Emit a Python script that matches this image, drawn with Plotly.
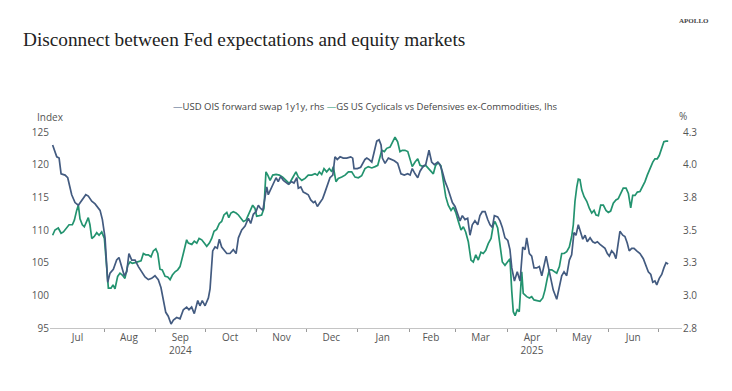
import pandas as pd
import plotly.graph_objects as go

START = pd.Timestamp("2024-07-01")

# USD OIS forward swap 1y1y (%, rhs) — x in days since 2024-07-01
ois_days = [
    0, 2.5, 3.9, 5.1, 7.5, 9.1, 11.5, 13.5, 15.5, 17.5,
    20, 21.5, 23.6, 25.6, 27.2, 28.6, 30, 31.6, 33.2, 34.6,
    36.6, 38.6, 40, 41.7, 43.2, 44.7, 46, 47.7, 49.7, 51.7,
    53.7, 55.7, 57.7, 59.7, 61.7, 63.7, 65.3, 66.7, 68.2, 69.7,
    71.4, 72.8, 74.8, 76.8, 78.8, 80.8, 82.2, 83.8, 85.4, 87.5,
    88.8, 90.2, 91.9, 93.9, 94.9,
    96.5, 97.9, 99.3, 100.5, 101.9, 103.3, 105, 106.9, 108.9, 110.6,
    112, 114, 116, 118, 119.4, 121, 122.6, 124, 125, 126.7,
    128, 129.1, 130, 131.5, 133, 134.7, 136, 137.5, 139.1, 140.7,
    142.1, 144.1, 145.5, 147.2, 148.1, 149.6, 151.1, 152.8, 154.1, 155.6,
    157.2, 158.2, 159.6, 161.2, 162.8, 164.2, 165.6, 167.2, 168.9, 170.2,
    171.6, 173.3, 175.2, 177.3, 179.7, 180.9, 181.7, 183.7, 185.7, 187.3,
    188.3,
    189.4, 190.7, 192.4, 193.9, 195.4, 196.8, 198, 198.8, 200.4, 202.4,
    204.4, 206, 208, 210, 212, 214.1, 215.5, 216.8, 218.5, 220.1,
    221.5, 223.5, 224.9, 226.9, 228.5, 230.1, 232.2, 233.5, 234.9, 236.6,
    238.2, 239.6, 241, 242.6, 244.2, 245.6, 247, 248.6, 250.2, 251.6,
    253, 254.6, 256.3, 257.6, 259, 260.7, 262.3, 263.7, 265.1, 266.3,
    268.3, 269.7, 271.1, 272.7, 274.4, 275.7, 276.8,
    278.4, 280.1, 281.8, 283.4, 284.8, 285.8, 287.4, 288.8, 290.2, 291.8,
    293.4, 294.9, 296.2, 297.5, 298.8, 300.3, 301.8, 303.9, 305.5, 306.9,
    308.3, 309.9, 311.5, 312.9, 314.3, 315.5, 316.9, 318.4, 319.6, 321,
    322.3, 324, 325.6, 327, 328.4, 330, 331.6, 333, 334.4, 335.6,
    337, 338.4, 339.6, 341, 342, 343.7, 345, 346.4, 347.6, 349.1,
    350.5, 352.1, 354.1, 356.1, 357.7, 359.1, 360.6, 361.8, 363.1, 364.2,
    365.7, 367.2, 368.5, 369.8, 371.1,
]
ois_pct = [
    4.15, 4.06, 4.05, 3.93, 3.92, 3.90, 3.77, 3.71, 3.69, 3.73,
    3.77, 3.76, 3.72, 3.70, 3.67, 3.65, 3.58, 3.44, 3.10, 3.17,
    3.20, 3.27, 3.29, 3.21, 3.15, 3.18, 3.32, 3.27, 3.27, 3.22,
    3.18, 3.14, 3.12, 3.13, 3.15, 3.12, 3.06, 2.96, 2.87, 2.84,
    2.78, 2.81, 2.83, 2.82, 2.89, 2.91, 2.89, 2.91, 2.86, 2.96,
    2.92, 2.96, 2.92, 2.98, 3.05,
    3.34, 3.37, 3.36, 3.43, 3.37, 3.35, 3.32, 3.32, 3.35, 3.32,
    3.44, 3.50, 3.53, 3.59, 3.55, 3.62, 3.64, 3.69, 3.67, 3.65,
    3.76, 3.83, 3.77, 3.81, 3.86, 3.90, 3.87, 3.91, 3.88, 3.86,
    3.85, 3.87, 3.86, 3.90, 3.82, 3.83, 3.79, 3.78, 3.77, 3.73,
    3.71, 3.72, 3.68, 3.71, 3.74, 3.79, 3.85, 3.90, 3.92, 4.06,
    4.04, 4.06, 4.05, 4.05, 4.06, 4.05, 3.97, 3.97, 3.98, 4.02,
    4.04,
    4.05, 4.04, 4.02, 4.10, 4.18, 4.19, 4.15, 4.05, 4.01, 4.05,
    4.04, 4.03, 4.01, 3.93, 3.92, 3.93, 3.92, 3.97, 3.93, 3.90,
    3.95, 3.99, 4.00, 4.11, 4.02, 4.00, 4.02, 4.00, 3.95, 3.87,
    3.82, 3.76, 3.71, 3.68, 3.62, 3.57, 3.61, 3.58, 3.59, 3.46,
    3.54, 3.57, 3.54, 3.61, 3.64, 3.64, 3.58, 3.54, 3.52, 3.61,
    3.60, 3.57, 3.52, 3.44, 3.42, 3.35, 3.21,
    3.11, 3.18, 3.11, 3.37, 3.35, 3.44, 3.32, 3.30, 3.21, 3.21,
    3.22, 3.15, 3.22, 3.30, 3.22, 3.13, 3.04, 2.97, 3.06, 3.15,
    3.18, 3.15, 3.27, 3.31, 3.48, 3.46, 3.54, 3.48, 3.43, 3.46,
    3.41, 3.44, 3.41, 3.40, 3.41, 3.39, 3.37, 3.36, 3.32, 3.30,
    3.34, 3.32, 3.28, 3.41, 3.49, 3.46, 3.45, 3.40, 3.34, 3.36,
    3.36, 3.34, 3.32, 3.28, 3.23, 3.18, 3.16, 3.10, 3.11, 3.08,
    3.13, 3.16, 3.21, 3.25, 3.24,
]

# GS US Cyclicals vs Defensives ex-Commodities (index, lhs)
gs_days = [
    0, 1.4, 3.4, 5.1, 6.5, 8.5, 9.9, 11.9, 13.1, 14.5,
    15.5, 16.5, 17.9, 19.1, 20.6, 21.5, 22.5, 23.6, 25.1, 26.6,
    28, 29.6, 31.2, 32.8, 33.6, 35.2, 36.4, 37.6, 39.2, 40.6,
    42, 43.6, 45.3, 46.7, 48, 49.7, 51.3, 53.3, 54.7, 56.1,
    57.7, 59.3, 60.7, 62.2, 63.4, 64.7, 66.1, 67.8, 69.4, 70.8,
    72.2, 73.8, 75.4, 76.8, 78.8, 80.8, 81.8, 83.9, 85.4, 86.9,
    88.3, 89.9, 91.4, 92.9,
    94.5, 95.9, 97.3, 98.9, 100.5, 101.9, 103.3, 105, 106.2, 107.5,
    108.9, 110.6, 112, 113.4, 115, 116.6, 118, 119.4, 120.6, 122,
    123, 124.6, 126, 127.4, 128.6, 129.7, 131.1, 132.7, 134.7, 136.7,
    138.7, 140.7, 142.7, 144.7, 146.7, 148.1, 150.2, 152.2, 154.1, 156.2,
    158.2, 159.6, 160.8, 162.2, 163.6, 165.2, 166.8, 168.3, 169.2, 170.8,
    172.2, 174.3, 176.3, 178.3, 180.3, 182.3, 184.3, 186.3, 188.3,
    190.3, 192.4, 194.4, 196, 197.4, 198.4, 200, 201.4, 203.4, 204.8,
    206.4, 208, 209.4, 210.8, 212.4, 214.1, 215.5, 216.8, 218.5, 220.1,
    221.5, 223.5, 224.9, 226.5, 228.1, 229.5, 230.9, 232.5, 234.1, 235.5,
    237, 238.5, 240.2, 241.6, 243, 244.6, 246.2, 247.6, 249, 250.6,
    252.2, 253.6, 255.1, 256.6, 258.2, 259.6, 261.1, 262.6, 264.3, 265.7,
    266.7, 268.3, 269.7, 271.1, 272.7, 274.4, 275.7,
    276.8, 277.7, 278.8, 280.1, 281.3, 282.8, 283.7, 285.8, 287.4, 288.8,
    290.2, 292.2, 293.8, 295.5, 296.8, 298.2, 299.4, 300.9, 302.2, 303.9,
    305.5, 306.9, 308.3, 309.9, 311.5, 312.9, 313.9, 314.9, 316, 316.9,
    317.9, 319, 320.4, 322, 323.6, 325, 326.4, 327.6, 329, 330.4,
    332, 333.6, 335, 336.4, 338, 339.6, 341, 342.5, 344, 345.7,
    347.1, 348.5, 349.7, 351.1, 352.5, 354.1, 355.7, 357.1, 358.5, 360.1,
    361.8, 363.1, 364.5, 365.7, 367.2, 368.5, 369.8, 371.1,
]
gs_index = [
    109.2, 110.0, 110.3, 109.5, 109.7, 110.3, 110.8, 110.8, 111.5, 113.0,
    113.8, 111.7, 110.8, 110.5, 111.5, 111.9, 110.8, 108.7, 109.0, 109.6,
    109.2, 109.7, 108.7, 104.4, 101.1, 101.1, 101.6, 101.0, 102.9, 103.4,
    103.1, 102.6, 104.6, 105.1, 104.9, 105.0, 105.1, 105.3, 106.4, 106.2,
    106.2, 105.9, 106.8, 107.1, 106.4, 104.0, 103.9, 102.9, 102.8, 102.4,
    103.1, 103.6, 103.9, 104.4, 106.4, 108.5, 108.0, 107.8, 108.3, 108.0,
    108.7, 108.5, 108.0, 107.5,
    108.0, 108.7, 109.8, 110.1, 111.0, 111.3, 112.3, 112.7, 111.9, 112.6,
    112.8, 112.6, 112.3, 111.8, 111.3, 111.5, 112.3, 113.0, 113.8, 113.3,
    112.1, 112.2, 112.3, 113.3, 118.9, 118.4, 117.6, 118.4, 118.5, 118.4,
    118.1, 117.6, 117.1, 118.0, 118.9, 118.1, 117.6, 117.9, 118.4, 118.4,
    118.6, 118.4, 118.9, 118.5, 119.4, 118.9, 119.4, 118.9, 119.7, 117.4,
    117.9, 118.1, 118.4, 118.9, 118.9, 118.1, 118.0, 118.3, 119.4,
    119.7, 119.5, 119.7, 119.9, 121.2, 122.2, 122.0, 122.5, 122.7, 123.5,
    124.2, 123.5, 122.0, 122.2, 122.2, 122.0, 120.9, 119.7, 120.4, 120.9,
    119.9, 119.7, 119.9, 119.4, 118.9, 118.6, 119.9, 120.3, 119.8, 117.4,
    115.1, 113.8, 113.0, 113.5, 112.7, 111.3, 110.0, 110.5, 109.7, 108.2,
    105.4, 105.1, 106.2, 105.4, 106.6, 106.4, 106.9, 107.9, 108.7, 110.8,
    111.3, 110.3, 107.9, 105.1, 104.6, 105.1, 105.6,
    100.6, 97.5, 96.9, 97.8, 97.5, 103.6, 100.3, 99.8, 99.6, 99.8,
    99.3, 99.2, 99.1, 99.6, 100.8, 102.6, 103.9, 103.9, 103.7, 103.4,
    104.4, 106.4, 106.4, 106.7, 107.4, 109.0, 110.8, 114.4, 116.6, 117.8,
    117.7, 116.1, 115.1, 114.4, 113.3, 112.6, 113.0, 112.3, 112.2, 113.8,
    113.8, 113.0, 112.7, 112.9, 114.1, 114.6, 114.8, 115.6, 116.4, 116.4,
    115.6, 113.4, 115.3, 115.3, 115.8, 115.9, 116.6, 117.4, 118.4, 119.4,
    120.4, 120.9, 120.9, 121.4, 122.7, 123.5, 123.6, 123.6,
]

month_starts = ["2024-08-01", "2024-09-01", "2024-10-01", "2024-11-01", "2024-12-01",
                "2025-01-01", "2025-02-01", "2025-03-01", "2025-04-01", "2025-05-01",
                "2025-06-01", "2025-07-01"]
month_mids = ["2024-07-16", "2024-08-16", "2024-09-16", "2024-10-16", "2024-11-16",
              "2024-12-16", "2025-01-16", "2025-02-14", "2025-03-16", "2025-04-16",
              "2025-05-16", "2025-06-16"]
month_labels = ["Jul", "Aug", "Sep<br>2024", "Oct", "Nov", "Dec", "Jan", "Feb", "Mar",
                "Apr<br>2025", "May", "Jun"]

left_ticks = [95, 100, 105, 110, 115, 120, 125]
right_ticks = [2.75, 3.0, 3.25, 3.5, 3.75, 4.0, 4.25]
right_labels = ["2.8", "3.0", "3.3", "3.5", "3.8", "4.0", "4.3"]

BLUE = "#435b80"
GREEN = "#23936f"
GREY = "#555555"


def to_dates(days):
    return [START + pd.Timedelta(days=d) for d in days]


fig = go.Figure()
fig.add_trace(go.Scatter(x=to_dates(gs_days), y=gs_index, mode="lines",
                         name="GS US Cyclicals vs Defensives ex-Commodities, lhs",
                         line=dict(color=GREEN, width=1.7), yaxis="y"))
fig.add_trace(go.Scatter(x=to_dates(ois_days), y=ois_pct, mode="lines",
                         name="USD OIS forward swap 1y1y, rhs",
                         line=dict(color=BLUE, width=1.7), yaxis="y2"))

# the page body adds an 8px offset; work in page pixels and convert
OFF = 8
W, H = 732 - OFF, 391 - OFF
PL, PR, PT, PB = 50, 682, 131.7, 328.3   # plot area in page pixels
L, R, T, B = PL - OFF, W - (PR - OFF), PT - OFF, H - (PB - OFF)
pw, ph = W - L - R, H - T - B


def px(x):
    return (x - OFF - L) / pw


def py(y):
    return (H - B - (y - OFF)) / ph


fig.update_layout(
    width=W, height=H,
    margin=dict(l=L, r=R, t=T, b=B),
    paper_bgcolor="white", plot_bgcolor="white",
    showlegend=False,
    font=dict(family="Open Sans, Noto Sans, sans-serif", size=10, color=GREY),
    xaxis=dict(
        type="date",
        range=["2024-06-29 10:00", "2025-07-15 10:00"],
        tickmode="array", tickvals=month_mids, ticktext=month_labels,
        ticks="", showgrid=False, zeroline=False,
        showline=True, linecolor="#c4c4c4", linewidth=1.2,
        tickfont=dict(size=10, color=GREY),
        minor=dict(tickmode="array", tickvals=month_starts, ticks="outside",
                   ticklen=3, tickcolor="#9a9a9a", tickwidth=1, showgrid=False),
    ),
    yaxis=dict(
        range=[95, 125], tickmode="array", tickvals=left_ticks,
        showgrid=False, zeroline=False, showline=False, ticks="",
        tickfont=dict(size=10, color=GREY),
    ),
    yaxis2=dict(
        range=[2.75, 4.25], overlaying="y", side="right",
        tickmode="array", tickvals=right_ticks, ticktext=right_labels,
        showgrid=False, zeroline=False, showline=False, ticks="",
        tickfont=dict(size=10, color=GREY),
    ),
)

legend_text = (f"<span style='color:{BLUE}'>—</span>USD OIS forward swap 1y1y, rhs "
               f"<span style='color:{GREEN}'>—</span>GS US Cyclicals vs Defensives ex-Commodities, lhs")

annotations = [
    dict(text="Disconnect between Fed expectations and equity markets",
         x=px(21), y=py(39), xanchor="left", yanchor="middle",
         font=dict(family="Liberation Serif, serif", size=19.3, color="#222222")),
    dict(text="<b>APOLLO</b>", x=px(711), y=py(20), xanchor="right", yanchor="middle",
         font=dict(family="Liberation Serif, serif", size=7, color="#444444")),
    dict(text=legend_text, x=px(365), y=py(106), xanchor="center", yanchor="middle",
         font=dict(size=9.5, color="#444444")),
    dict(text="Index", x=px(50), y=py(117), xanchor="center", yanchor="middle",
         font=dict(size=10, color=GREY)),
    dict(text="%", x=px(683), y=py(116), xanchor="center", yanchor="middle",
         font=dict(size=10, color=GREY)),
]
for a in annotations:
    a.update(xref="paper", yref="paper", showarrow=False)
fig.update_layout(annotations=annotations)

fig.write_html("out.html")
